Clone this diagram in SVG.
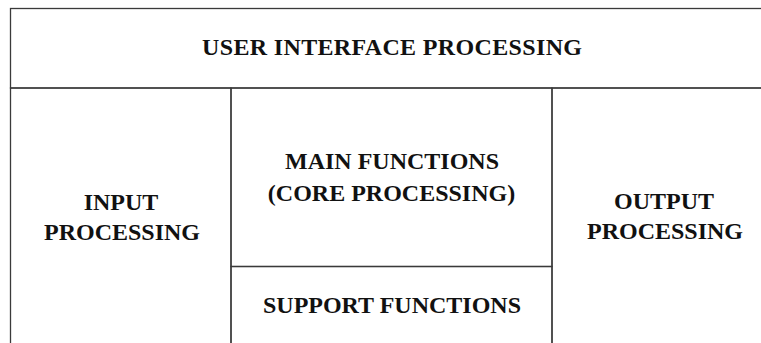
<svg xmlns="http://www.w3.org/2000/svg" width="761" height="343" viewBox="0 0 761 343">
<style>
.cell{fill:none;stroke:#3a3a3a;stroke-width:1.3}
.lbl{font-family:"Liberation Serif","Times New Roman",serif;font-weight:bold;font-size:24px;fill:#111;text-anchor:middle}
</style>
<rect x="0" y="0" width="761" height="343" fill="#fff"/>
<g id="user-interface">
<rect class="cell" x="10.5" y="8.5" width="770" height="79.5"/>
<text class="lbl" x="392" y="55" textLength="380" lengthAdjust="spacing">USER INTERFACE PROCESSING</text>
</g>
<g id="input">
<rect class="cell" x="10.5" y="88" width="220.5" height="280"/>
<text class="lbl" x="121" y="210">INPUT</text>
<text class="lbl" x="122" y="240">PROCESSING</text>
</g>
<g id="main">
<rect class="cell" x="231" y="88" width="321" height="178.5"/>
<text class="lbl" x="392" y="169">MAIN FUNCTIONS</text>
<text class="lbl" x="391.5" y="201">(CORE PROCESSING)</text>
</g>
<g id="support">
<rect class="cell" x="231" y="266.5" width="321" height="100"/>
<text class="lbl" x="392" y="312.5">SUPPORT FUNCTIONS</text>
</g>
<g id="output">
<rect class="cell" x="552" y="88" width="230" height="280"/>
<text class="lbl" x="664" y="209">OUTPUT</text>
<text class="lbl" x="665" y="239">PROCESSING</text>
</g>
<g id="connectors"></g>
</svg>
